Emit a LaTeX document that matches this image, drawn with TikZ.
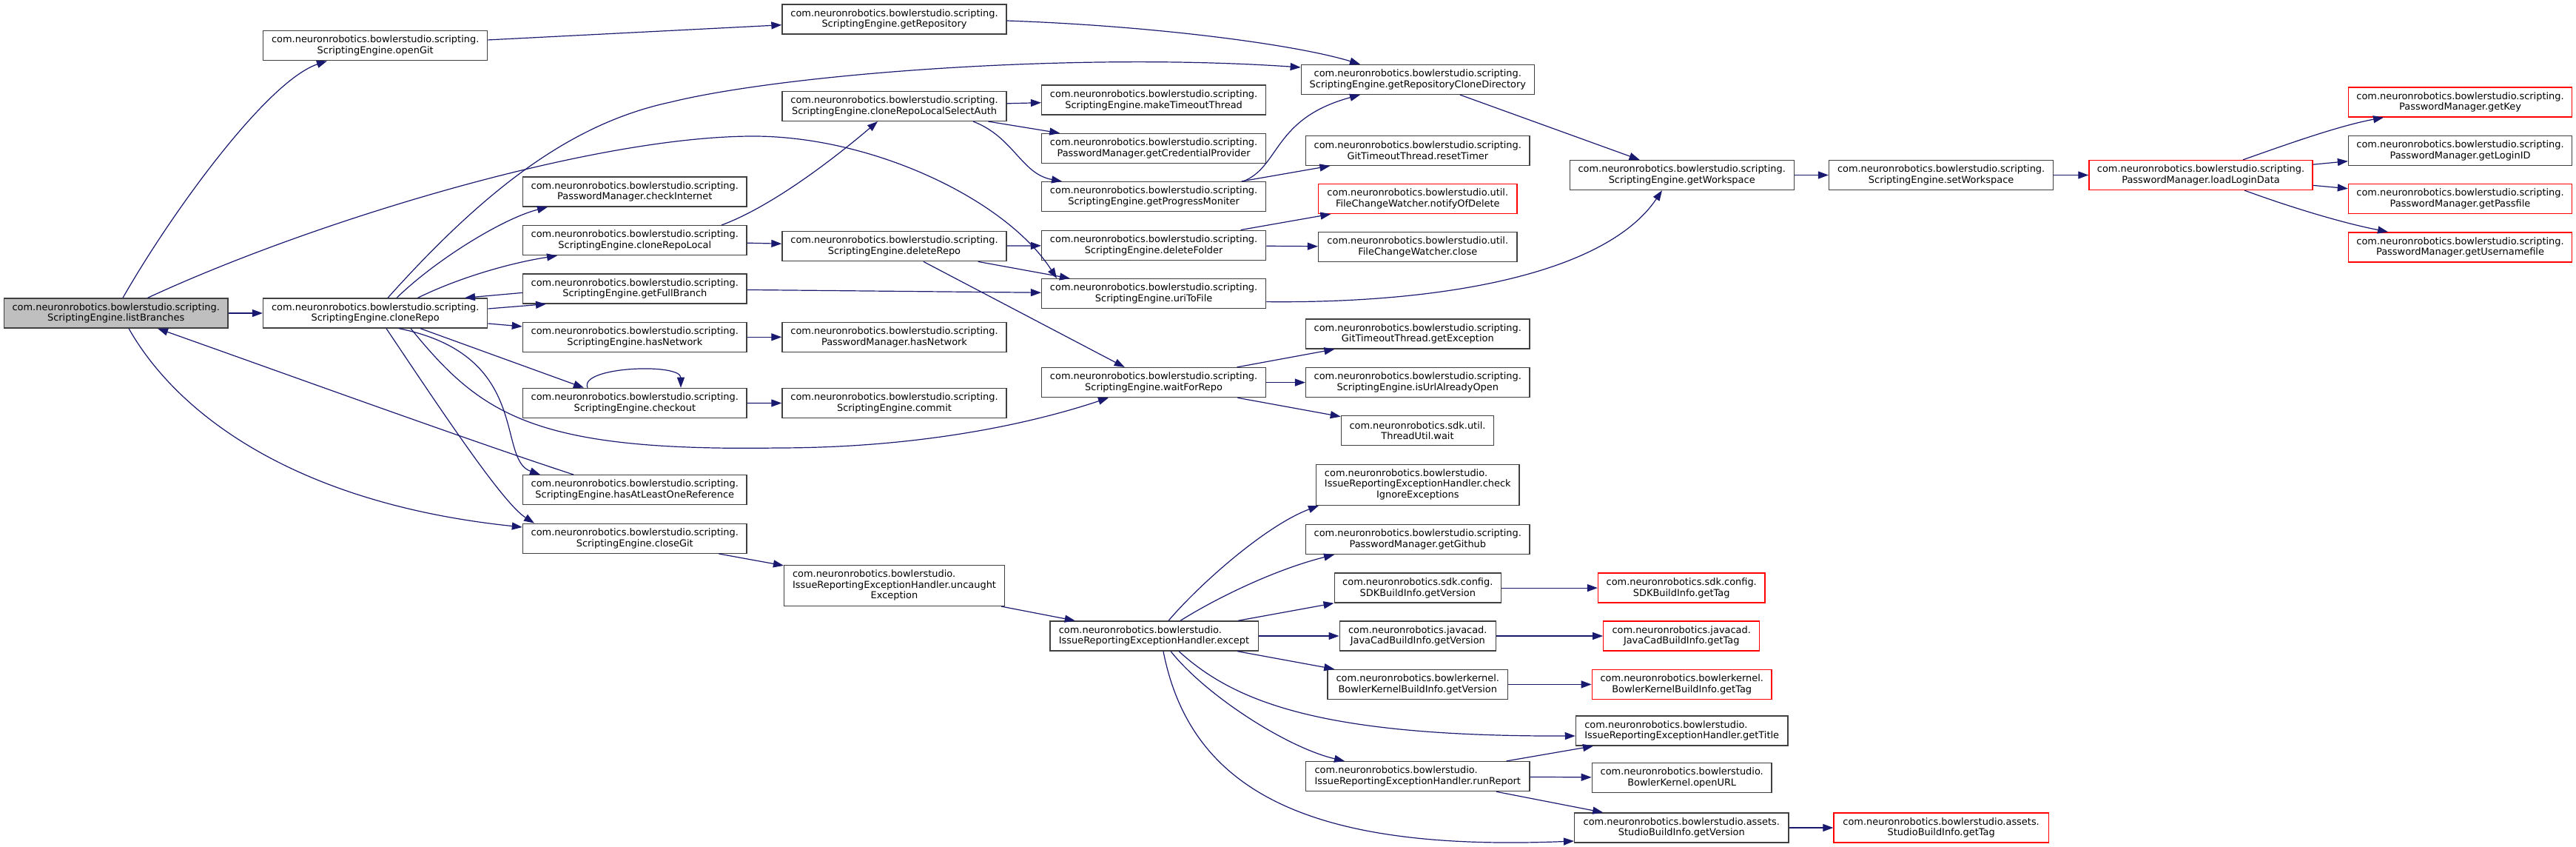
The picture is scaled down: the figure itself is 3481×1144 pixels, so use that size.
\documentclass[tikz,border=0pt]{standalone}
\usepackage{fontspec}
\setmainfont{DejaVu Sans}
\usetikzlibrary{arrows.meta}
\definecolor{edgec}{HTML}{191970}
\definecolor{bordc}{HTML}{404040}
\definecolor{redc}{HTML}{FF0000}
\definecolor{rootfill}{HTML}{BFBFBF}
\tikzset{
  fn/.style={draw=bordc, line width=1pt, fill=white, inner sep=0pt, align=center,
    minimum height=30pt, font=\fontsize{9.7}{11.1}\selectfont},
  w/.style={minimum width=#1*0.75pt},
  tall/.style={minimum height=41pt},
  redbox/.style={draw=redc},
  e/.style={draw=edgec, line width=0.9pt, -{Triangle[length=10.5pt,width=7.5pt]}}
}
\newcommand{\pk}{com.neuronrobotics.bowlerstudio.scripting.}
\begin{document}
\begin{tikzpicture}[x=0.75pt,y=-0.75pt]
\useasboundingbox (0,0) rectangle (3481,1144);
% column 0
\node[fn,w=302.6,fill=rootfill] (lb) at (156.7,423) {\pk\\ScriptingEngine.listBranches};
% column 1
\node[fn,w=303.2] (og) at (507.2,61.7) {\pk\\ScriptingEngine.openGit};
\node[fn,w=303.2] (cr) at (507.2,423) {\pk\\ScriptingEngine.cloneRepo};
% column 2
\node[fn,w=302.7] (ci) at (857.8,259) {\pk\\PasswordManager.checkInternet};
\node[fn,w=302.7] (crl) at (857.8,324.7) {\pk\\ScriptingEngine.cloneRepoLocal};
\node[fn,w=302.7] (gfb) at (857.8,390) {\pk\\ScriptingEngine.getFullBranch};
\node[fn,w=302.7] (hn) at (857.8,455.3) {\pk\\ScriptingEngine.hasNetwork};
\node[fn,w=302.7] (co) at (857.8,544.4) {\pk\\ScriptingEngine.checkout};
\node[fn,w=302.7] (hal) at (857.8,661.7) {\pk\\ScriptingEngine.hasAtLeastOneReference};
\node[fn,w=302.7] (cg) at (857.8,727.3) {\pk\\ScriptingEngine.closeGit};
% column 3
\node[fn,w=303] (gr) at (1208.5,26) {\pk\\ScriptingEngine.getRepository};
\node[fn,w=303] (crlsa) at (1208.5,143.4) {\pk\\ScriptingEngine.cloneRepoLocalSelectAuth};
\node[fn,w=303] (dr) at (1208.5,332.7) {\pk\\ScriptingEngine.deleteRepo};
\node[fn,w=303] (pmhn) at (1208.5,455.3) {\pk\\PasswordManager.hasNetwork};
\node[fn,w=303] (cm) at (1208.5,544.5) {\pk\\ScriptingEngine.commit};
\node[fn,w=297.8,tall] (ue) at (1208.5,791.1) {\begin{tabular}{@{}l@{}}com.neuronrobotics.bowlerstudio.\\IssueReportingExceptionHandler.uncaught\\\multicolumn{1}{@{}c@{}}{Exception}\end{tabular}};
% column 4
\node[fn,w=303] (mtt) at (1559.1,135.1) {\pk\\ScriptingEngine.makeTimeoutThread};
\node[fn,w=303] (gcp) at (1559.1,200.5) {\pk\\PasswordManager.getCredentialProvider};
\node[fn,w=303] (gpm) at (1559.1,265.6) {\pk\\ScriptingEngine.getProgressMoniter};
\node[fn,w=303] (df) at (1559.1,331.2) {\pk\\ScriptingEngine.deleteFolder};
\node[fn,w=303] (utf) at (1559.1,396.7) {\pk\\ScriptingEngine.uriToFile};
\node[fn,w=303] (wfr) at (1559.1,516.6) {\pk\\ScriptingEngine.waitForRepo};
\node[fn,w=281.3,align=left] (ex) at (1559.5,859) {com.neuronrobotics.bowlerstudio.\\IssueReportingExceptionHandler.except};
% column 5
\node[fn,w=315] (grcd) at (1915.8,107.4) {\pk\\ScriptingEngine.getRepositoryCloneDirectory};
\node[fn,w=302.4] (rt) at (1915.8,203.4) {\pk\\GitTimeoutThread.resetTimer};
\node[fn,w=268.5,redbox] (nod) at (1915.8,268.5) {com.neuronrobotics.bowlerstudio.util.\\FileChangeWatcher.notifyOfDelete};
\node[fn,w=268.5] (fcw) at (1915.8,333.7) {com.neuronrobotics.bowlerstudio.util.\\FileChangeWatcher.close};
\node[fn,w=302.4] (ge) at (1915.8,451) {\pk\\GitTimeoutThread.getException};
\node[fn,w=302.4] (iuao) at (1915.8,516.6) {\pk\\ScriptingEngine.isUrlAlreadyOpen};
\node[fn,w=206.2] (tuw) at (1915.5,581.6) {com.neuronrobotics.sdk.util.\\ThreadUtil.wait};
\node[fn,w=274.3,tall] (cie) at (1915.8,655) {\begin{tabular}{@{}l@{}}com.neuronrobotics.bowlerstudio.\\IssueReportingExceptionHandler.check\\\multicolumn{1}{@{}c@{}}{IgnoreExceptions}\end{tabular}};
\node[fn,w=302.4] (ggh) at (1915.8,728.5) {\pk\\PasswordManager.getGithub};
\node[fn,w=225.2] (sdkv) at (1915.8,794.1) {com.neuronrobotics.sdk.config.\\SDKBuildInfo.getVersion};
\node[fn,w=211.2] (jcv) at (1915.8,859) {com.neuronrobotics.javacad.\\JavaCadBuildInfo.getVersion};
\node[fn,w=243.4] (bkv) at (1915.8,924.4) {com.neuronrobotics.bowlerkernel.\\BowlerKernelBuildInfo.getVersion};
\node[fn,w=302.4,align=left] (rr) at (1915.8,1048.6) {com.neuronrobotics.bowlerstudio.\\IssueReportingExceptionHandler.runReport};
% column 6
\node[fn,w=303] (gw) at (2272.7,236.5) {\pk\\ScriptingEngine.getWorkspace};
\node[fn,w=225.4,redbox] (sdkt) at (2272.2,794.1) {com.neuronrobotics.sdk.config.\\SDKBuildInfo.getTag};
\node[fn,w=210.8,redbox] (jct) at (2272.2,859) {com.neuronrobotics.javacad.\\JavaCadBuildInfo.getTag};
\node[fn,w=242.7,redbox] (bkt) at (2272.7,924.4) {com.neuronrobotics.bowlerkernel.\\BowlerKernelBuildInfo.getTag};
\node[fn,w=286.6,align=left] (gt) at (2272.7,987) {com.neuronrobotics.bowlerstudio.\\IssueReportingExceptionHandler.getTitle};
\node[fn,w=242.7] (ou) at (2272.7,1050.5) {com.neuronrobotics.bowlerstudio.\\BowlerKernel.openURL};
\node[fn,w=289.3] (sbv) at (2272.3,1118) {com.neuronrobotics.bowlerstudio.assets.\\StudioBuildInfo.getVersion};
% column 7
\node[fn,w=303] (sw) at (2623.1,236.5) {\pk\\ScriptingEngine.setWorkspace};
\node[fn,w=290.2,redbox] (sbt) at (2623.1,1118) {com.neuronrobotics.bowlerstudio.assets.\\StudioBuildInfo.getTag};
% column 8
\node[fn,w=302,redbox] (lld) at (2974,236.5) {\pk\\PasswordManager.loadLoginData};
% column 9
\node[fn,w=302.1,redbox] (gk) at (3324.5,138) {\pk\\PasswordManager.getKey};
\node[fn,w=302.1] (gli) at (3324.5,203.4) {\pk\\PasswordManager.getLoginID};
\node[fn,w=302.1,redbox] (gpf) at (3324.5,268.6) {\pk\\PasswordManager.getPassfile};
\node[fn,w=302.1,redbox] (gun) at (3324.5,333.9) {\pk\\PasswordManager.getUsernamefile};

% ---- edges from listBranches
\draw[e] (166,0 |- lb.north) .. controls (230,290) and (360,110) .. (442,0 |- og.south);
\draw[e] (lb) -- (cr);
\draw[e] (199.5,0 |- lb.north) .. controls (420,300) and (800,184) .. (1018,184) .. controls (1180,184) and (1360,270) .. (1428,0 |- utf.north);
\draw[e] (174,0 |- lb.south) .. controls (240,560) and (400,680) .. (cg.west |- 0,712);
\draw[e] (775,0 |- hal.north) .. controls (640,597) and (400,510) .. (213,0 |- lb.south);
% ---- edges from cloneRepo
\draw[e] (524,0 |- cr.north) .. controls (665,245) and (780,165) .. (906,138) .. controls (1060,100) and (1450,70) .. (grcd.west |- 0,91);
\draw[e] (536,0 |- cr.north) .. controls (590,350) and (680,295) .. (740,0 |- ci.south);
\draw[e] (564.5,0 |- cr.north) .. controls (620,375) and (690,355) .. (753,0 |- crl.south);
\draw[e] (cr.east |- 0,417) -- (738,0 |- gfb.south);
\draw[e] (gfb.west |- 0,395.4) -- (628,0 |- cr.north);
\draw[e] (cr.east |- 0,437) -- (hn.west |- 0,441);
\draw[e] (568,0 |- cr.south) -- (789,0 |- co.north);
\draw[e] (794,0 |- co.north) .. controls (782,495) and (920,490) .. (920,0 |- co.north);
\draw[e] (539,0 |- cr.south) .. controls (720,480) and (670,620) .. (730,0 |- hal.north);
\draw[e] (522,0 |- cr.south) .. controls (600,560) and (680,680) .. (722,0 |- cg.north);
\draw[e] (555,0 |- cr.south) .. controls (650,560) and (720,610) .. (1050,605) .. controls (1250,605) and (1400,570) .. (1498,0 |- wfr.south);
% ---- column 2
\draw[e] (975,0 |- crl.north) .. controls (1040,280) and (1120,220) .. (1186,0 |- crlsa.south);
\draw[e] (crl) -- (dr);
\draw[e] (gfb) -- (utf);
\draw[e] (hn) -- (pmhn);
\draw[e] (co) -- (cm);
\draw[e] (cg) -- (ue);
% ---- column 1/3
\draw[e] (og) -- (gr);
\draw[e] (gr.east |- 0,28) .. controls (1560,35) and (1750,60) .. (1838,0 |- grcd.north);
\draw[e] (crlsa) -- (mtt);
\draw[e] (crlsa) -- (gcp);
\draw[e] (1315,0 |- crlsa.south) .. controls (1370,185) and (1380,235) .. (1435,0 |- gpm.north);
\draw[e] (dr) -- (df);
\draw[e] (dr) -- (utf);
\draw[e] (dr) -- (wfr);
\draw[e] (ue) -- (ex);
% ---- column 4
\draw[e] (1680,0 |- gpm.north) .. controls (1730,225) and (1720,160) .. (1838,0 |- grcd.south);
\draw[e] (gpm) -- (rt);
\draw[e] (df) -- (nod);
\draw[e] (df) -- (fcw);
\draw[e] (utf.east |- 0,407.6) .. controls (1950,410) and (2170,370) .. (2246,0 |- gw.south);
\draw[e] (wfr) -- (ge);
\draw[e] (wfr) -- (iuao);
\draw[e] (wfr) -- (tuw);
\draw[e] (1579,0 |- ex.north) .. controls (1620,790) and (1710,710) .. (1782,0 |- cie.south);
\draw[e] (1595,0 |- ex.north) .. controls (1640,810) and (1720,770) .. (1803,0 |- ggh.south);
\draw[e] (ex) -- (sdkv);
\draw[e] (ex) -- (jcv);
\draw[e] (ex) -- (bkv);
\draw[e] (1593,0 |- ex.south) .. controls (1670,950) and (1790,995) .. (gt.west |- 0,994);
\draw[e] (1582,0 |- ex.south) .. controls (1630,940) and (1740,1010) .. (1817,0 |- rr.north);
\draw[e] (1572,0 |- ex.south) .. controls (1610,1075) and (1780,1150) .. (sbv.west |- 0,1136);
% ---- column 5
\draw[e] (grcd) -- (gw);
\draw[e] (rr) -- (gt);
\draw[e] (rr) -- (ou);
\draw[e] (rr) -- (sbv);
\draw[e] (sdkv) -- (sdkt);
\draw[e] (jcv) -- (jct);
\draw[e] (bkv) -- (bkt);
\draw[e] (sbv) -- (sbt);
% ---- workspace chain
\draw[e] (gw) -- (sw);
\draw[e] (sw) -- (lld);
\draw[e] (3031,0 |- lld.north) .. controls (3090,195) and (3160,170) .. (3221,0 |- gk.south);
\draw[e] (lld) -- (gli);
\draw[e] (lld) -- (gpf);
\draw[e] (3033,0 |- lld.south) .. controls (3090,278) and (3160,300) .. (3227,0 |- gun.north);
\end{tikzpicture}
\end{document}
